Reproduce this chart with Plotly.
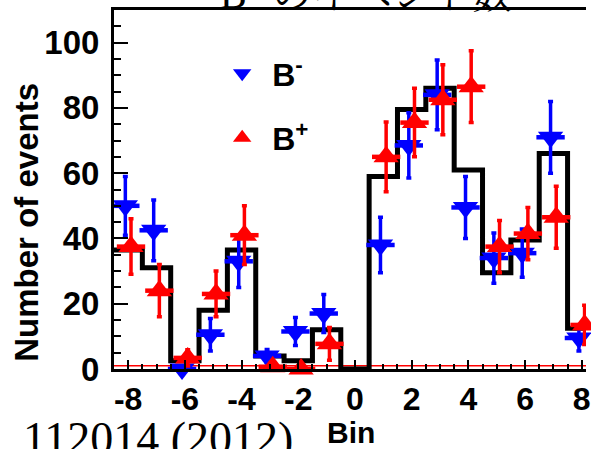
import plotly.graph_objects as go

# ---- data ----
bins = list(range(-8, 9))
hist_counts = [36.5, 31, 2.5, 18, 36.5, 4, 2.5, 12, 0, 59, 79.5, 86, 61, 29.5, 39.5, 66, 12.5]
bminus = [50, 42.5, 0, 10.5, 33, 4, 11.5, 17, None, 38, 68.5, 84, 49.5, 34, 35.5, 71, 9.5]
bminus_err = [9, 9.3, 0, 5, 8, 2, 4.3, 5.8, None, 8.5, 10, 10.7, 9.5, 7.7, 7.4, 11, 4]
bplus = [37.5, 24, 3.4, 23, 41, 0.7, 0, 7.7, None, 65, 75.5, 82.5, 86.5, 37.5, 41.5, 46.5, 13.5]
bplus_err = [8.5, 8, 2.5, 7, 9, 0, 0, 5, None, 10.7, 10.5, 10.7, 11, 8, 8, 9.5, 6]
x_ticks = [-8, -6, -4, -2, 0, 2, 4, 6, 8]
x_tick_text = ["-8", "-6", "-4", "-2", "0", "2", "4", "6", "8"]
y_ticks = [0, 20, 40, 60, 80, 100]

half = 0.5
shift = 0.1
edges = [b - half for b in bins] + [bins[-1] + half]
step_y = hist_counts + [hist_counts[-1]]

BOLD = dict(family="Liberation Sans, Arial, sans-serif", size=32, color="black", weight="bold")

fig = go.Figure()
fig.add_trace(go.Scatter(x=edges, y=step_y, mode="lines", line=dict(color="black", width=5, shape="hv"),
                         showlegend=False, hoverinfo="skip"))
fig.add_trace(go.Scatter(
    x=[b - shift for b in bins], y=bminus, mode="markers", name="B<sup>-</sup>", legendgroup="m",
    marker=dict(symbol="triangle-down", size=22, color="#0000ff"),
    error_y=dict(type="data", array=bminus_err, color="#0000ff", thickness=3.5, width=2.5),
    error_x=dict(type="constant", value=half, color="#0000ff", thickness=4.5, width=0),
    cliponaxis=False))
fig.add_trace(go.Scatter(
    x=[b + shift for b in bins], y=bplus, mode="markers", name="B<sup>+</sup>", legendgroup="p",
    marker=dict(symbol="triangle-up", size=22, color="#ff0000"),
    error_y=dict(type="data", array=bplus_err, color="#ff0000", thickness=3.5, width=2.5),
    error_x=dict(type="constant", value=half, color="#ff0000", thickness=4.5, width=0),
    cliponaxis=False))

fig.update_layout(
    width=591, height=449,
    margin=dict(l=114, r=0, t=10, b=80, pad=0),
    paper_bgcolor="white", plot_bgcolor="white",
    font=BOLD,
    showlegend=True,
    legend=dict(x=0.208, y=0.9, xanchor="left", yanchor="top", bgcolor="rgba(0,0,0,0)",
                font=BOLD, tracegroupgap=20, itemwidth=50),
    xaxis=dict(range=[-8.5, 8.15], tickvals=x_ticks, ticktext=x_tick_text, ticks="inside", ticklen=9, tickwidth=2,
               tickcolor="black", showline=True, linewidth=3, linecolor="black", mirror=True,
               showgrid=False, zeroline=False, tickfont=BOLD, layer="above traces",
               ticklabeloverflow="allow",
               minor=dict(dtick=0.5, ticks="inside", ticklen=5, tickwidth=2, tickcolor="black", showgrid=False)),
    yaxis=dict(range=[0, 110], tickvals=y_ticks, ticks="inside", ticklen=14, tickwidth=2,
               tickcolor="black", showline=True, linewidth=3, linecolor="black",
               showgrid=False, zeroline=False, tickfont=dict(BOLD, size=33), layer="above traces",
               ticklabelstandoff=5,
               minor=dict(dtick=5, ticks="inside", ticklen=7, tickwidth=2, tickcolor="black", showgrid=False)),
    shapes=[dict(type="line", xref="paper", yref="paper", x0=0, x1=1, y0=0.009, y1=0.009,
                 line=dict(color="#ff0000", width=1.5), layer="below")],
    annotations=[
        dict(text="Number of events", xref="paper", yref="paper", x=-0.1845, y=0.41, textangle=-90,
             showarrow=False, font=dict(BOLD, size=33), xanchor="center", yanchor="middle"),
        dict(text="Bin", xref="paper", yref="paper", x=0.503, y=-0.178, showarrow=False,
             font=dict(BOLD, size=30), xanchor="center", yanchor="middle"),
        dict(text="112014 (2012)", xref="paper", yref="paper", x=-0.198, y=-0.117, showarrow=False,
             font=dict(family="Liberation Serif, serif", size=46, color="black", weight="normal"),
             xanchor="left", yanchor="top"),
        dict(text="B<sup>±</sup> のイベント数", xref="paper", yref="paper", x=0.22, y=0.975, showarrow=False,
             font=dict(family="Liberation Serif, Noto Serif CJK JP, Noto Sans CJK JP, serif", size=40,
                       color="black", weight="normal"),
             xanchor="left", yanchor="bottom"),
    ],
)

fig.write_html("out.html")
